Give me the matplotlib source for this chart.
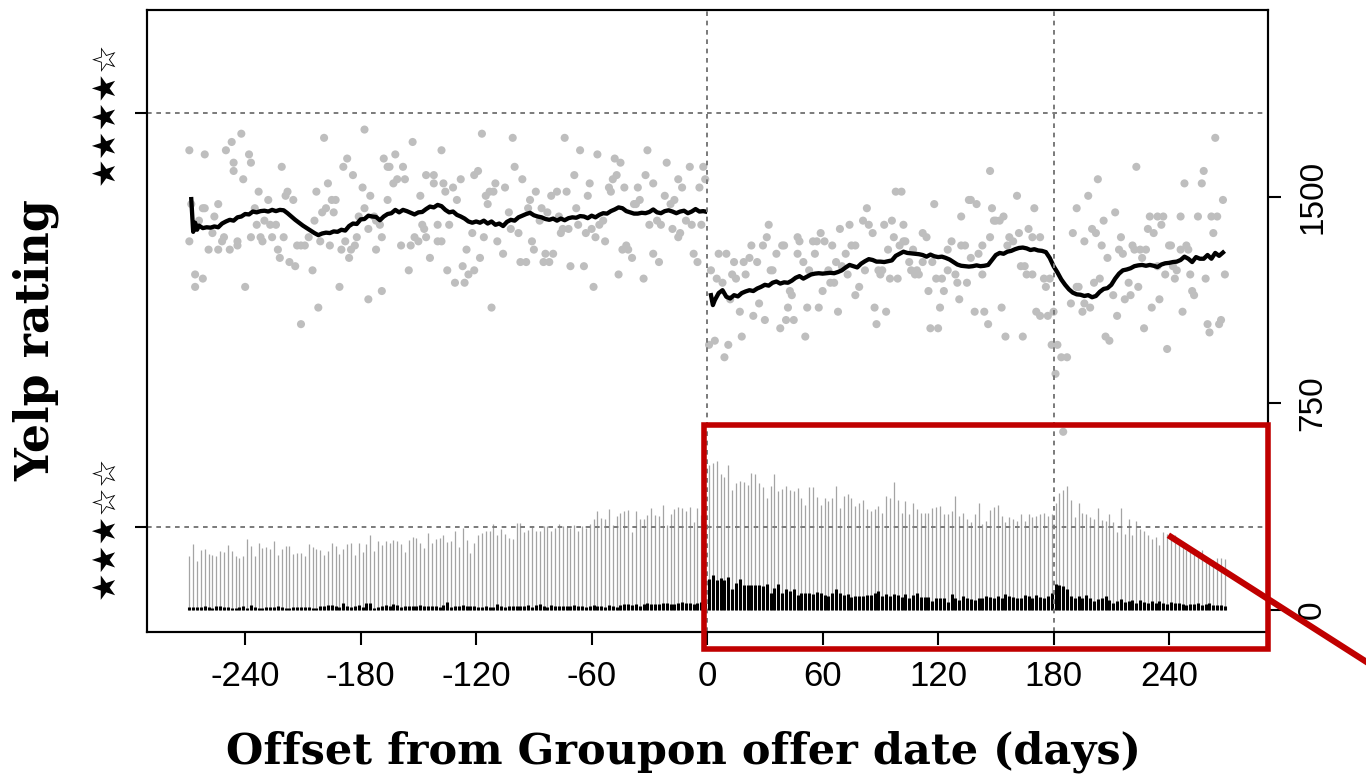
import numpy as np
import matplotlib
matplotlib.use("Agg")
import matplotlib.pyplot as plt
from matplotlib.patches import Rectangle
from matplotlib.lines import Line2D
from matplotlib.transforms import blended_transform_factory

plt.rcParams['font.family'] = ['Liberation Sans', 'DejaVu Sans']

# ---- data ----
# review counts (right axis), one bar every 2 days
bar_days_pre = np.arange(-269, 0, 2)
bar_days_post = np.arange(1, 270, 2)

gray_pre = [196, 239, 178, 217, 223, 205, 200, 196, 214, 212,
            236, 214, 196, 190, 196, 257, 233, 196, 242, 226,
            230, 223, 251, 199, 220, 233, 233, 205, 208, 208,
            196, 239, 230, 220, 217, 199, 214, 242, 233, 202,
            220, 241, 242, 200, 242, 212, 239, 272, 214, 251,
            236, 251, 242, 253, 251, 239, 212, 253, 265, 260,
            242, 226, 281, 245, 259, 263, 271, 248, 251, 285,
            229, 299, 253, 208, 242, 271, 281, 285, 285, 314,
            272, 293, 275, 263, 259, 317, 315, 283, 289, 305,
            287, 287, 305, 305, 287, 299, 311, 305, 303, 299,
            309, 287, 305, 299, 311, 329, 360, 335, 329, 366,
            309, 341, 354, 360, 362, 283, 360, 329, 330, 345,
            370, 345, 340, 380, 310, 350, 365, 375, 370, 360,
            375, 320, 370, 345, 340]
gray_post = [526, 535, 540, 493, 484, 528, 437, 460, 469, 466,
             455, 496, 493, 460, 445, 407, 452, 493, 431, 440,
             449, 437, 431, 443, 407, 383, 445, 445, 411, 383,
             407, 395, 407, 449, 369, 413, 421, 407, 377, 389,
             401, 366, 360, 366, 377, 354, 413, 407, 466, 398,
             354, 395, 348, 389, 366, 354, 354, 354, 372, 374,
             377, 348, 348, 360, 413, 342, 354, 330, 318, 348,
             389, 312, 324, 362, 374, 383, 342, 318, 338, 330,
             324, 348, 324, 348, 336, 342, 350, 354, 342, 350,
             389, 425, 437, 452, 401, 336, 389, 354, 348, 336,
             330, 372, 326, 324, 348, 318, 283, 372, 277, 330,
             271, 324, 294, 288, 271, 259, 265, 235, 283, 277,
             265, 271, 235, 229, 217, 211, 205, 193, 217, 182,
             176, 182, 188, 190, 185]
black_pre = [10, 12, 10, 12, 14, 12, 8, 14, 15, 10,
             10, 8, 6, 12, 14, 8, 18, 10, 8, 6,
             12, 12, 12, 14, 10, 8, 6, 10, 12, 10,
             12, 10, 8, 6, 14, 14, 18, 18, 14, 10,
             25, 14, 10, 14, 18, 12, 25, 25, 8, 10,
             14, 18, 14, 20, 18, 12, 14, 16, 16, 16,
             18, 16, 16, 14, 14, 12, 18, 28, 12, 14,
             16, 18, 16, 14, 14, 12, 12, 14, 10, 12,
             22, 16, 12, 14, 14, 14, 14, 16, 18, 10,
             18, 22, 14, 12, 18, 16, 16, 14, 16, 14,
             18, 16, 16, 12, 14, 18, 16, 14, 12, 18,
             14, 12, 18, 22, 20, 18, 22, 16, 20, 24,
             22, 20, 22, 26, 24, 22, 20, 24, 28, 26,
             24, 22, 26, 28, 30]
black_post = [113, 127, 108, 116, 108, 119, 75, 99, 114, 89,
              90, 90, 89, 89, 87, 94, 63, 81, 93, 63,
              77, 69, 75, 55, 61, 63, 63, 59, 66, 63,
              53, 51, 63, 75, 61, 53, 57, 47, 50, 49,
              51, 55, 55, 63, 69, 51, 59, 51, 57, 55,
              47, 57, 43, 53, 63, 47, 47, 47, 31, 43,
              44, 43, 30, 57, 43, 38, 51, 43, 39, 37,
              43, 43, 50, 47, 42, 51, 43, 57, 51, 47,
              44, 43, 53, 50, 42, 55, 48, 45, 51, 63,
              94, 90, 88, 75, 51, 45, 51, 45, 55, 43,
              33, 39, 42, 51, 37, 27, 33, 39, 30, 33,
              37, 25, 38, 30, 27, 31, 25, 33, 27, 21,
              30, 25, 27, 21, 19, 21, 21, 25, 19, 21,
              25, 19, 18, 18, 15]

# daily average ratings (day, rating)
daily_points = [
    (-269, 3.69), (-269, 3.91), (-268, 3.78), (-266, 3.61), (-266, 3.58), (-264, 3.74),
    (-262, 3.77), (-262, 3.60), (-261, 3.77), (-261, 3.90), (-259, 3.67), (-257, 3.71),
    (-256, 3.75), (-254, 3.78), (-254, 3.67), (-252, 3.69), (-251, 3.70), (-250, 3.91),
    (-248, 3.67), (-247, 3.93), (-246, 3.88), (-246, 3.86), (-244, 3.68), (-244, 3.69),
    (-242, 3.95), (-241, 3.84), (-240, 3.58), (-238, 3.90), (-237, 3.70), (-237, 3.88),
    (-235, 3.77), (-234, 3.73), (-233, 3.81), (-232, 3.70), (-231, 3.69), (-230, 3.74),
    (-228, 3.79), (-227, 3.73), (-226, 3.70), (-224, 3.73), (-223, 3.67), (-222, 3.65),
    (-221, 3.87), (-220, 3.70), (-219, 3.80), (-218, 3.81), (-217, 3.64), (-215, 3.79),
    (-214, 3.63), (-213, 3.68), (-211, 3.68), (-211, 3.49), (-209, 3.68), (-207, 3.70),
    (-205, 3.62), (-204, 3.74), (-203, 3.81), (-202, 3.53), (-201, 3.69), (-200, 3.76),
    (-199, 3.94), (-198, 3.77), (-197, 3.83), (-196, 3.68), (-195, 3.79), (-194, 3.76),
    (-193, 3.79), (-191, 3.58), (-190, 3.67), (-189, 3.87), (-188, 3.69), (-187, 3.89),
    (-186, 3.65), (-185, 3.67), (-184, 3.85), (-183, 3.68), (-182, 3.70), (-181, 3.75),
    (-179, 3.82), (-178, 3.96), (-178, 3.77), (-176, 3.72), (-176, 3.55), (-175, 3.80),
    (-173, 3.75), (-172, 3.67), (-172, 3.74), (-170, 3.73), (-169, 3.57), (-169, 3.70),
    (-168, 3.89), (-166, 3.79), (-166, 3.87), (-165, 3.87), (-163, 3.83), (-162, 3.90),
    (-161, 3.84), (-159, 3.68), (-158, 3.87), (-157, 3.84), (-155, 3.62), (-154, 3.68),
    (-153, 3.93), (-152, 3.70), (-150, 3.69), (-149, 3.80), (-148, 3.73), (-147, 3.72),
    (-146, 3.70), (-146, 3.85), (-144, 3.65), (-142, 3.83), (-142, 3.85), (-140, 3.73),
    (-140, 3.69), (-138, 3.91), (-138, 3.69), (-137, 3.83), (-136, 3.81), (-135, 3.62),
    (-134, 3.73), (-132, 3.82), (-131, 3.59), (-130, 3.79), (-128, 3.84), (-127, 3.63),
    (-126, 3.59), (-125, 3.67), (-124, 3.61), (-122, 3.71), (-121, 3.62), (-121, 3.85),
    (-119, 3.86), (-118, 3.65), (-117, 3.95), (-116, 3.70), (-115, 3.80), (-114, 3.78),
    (-113, 3.81), (-112, 3.53), (-111, 3.81), (-110, 3.83), (-109, 3.69), (-106, 3.66),
    (-105, 3.82), (-103, 3.76), (-102, 3.72), (-101, 3.94), (-100, 3.87), (-98, 3.71),
    (-97, 3.64), (-96, 3.84), (-94, 3.64), (-93, 3.77), (-92, 3.79), (-91, 3.69),
    (-90, 3.67), (-89, 3.81), (-87, 3.74), (-86, 3.77), (-85, 3.64), (-84, 3.66),
    (-83, 3.76), (-82, 3.64), (-81, 3.80), (-80, 3.66), (-78, 3.81), (-77, 3.75),
    (-76, 3.71), (-75, 3.72), (-74, 3.94), (-73, 3.81), (-72, 3.72), (-71, 3.63),
    (-69, 3.85), (-68, 3.77), (-67, 3.73), (-66, 3.91), (-64, 3.63), (-63, 3.71),
    (-62, 3.80), (-61, 3.83), (-60, 3.72), (-59, 3.58), (-58, 3.70), (-57, 3.90),
    (-56, 3.73), (-54, 3.74), (-53, 3.69), (-51, 3.82), (-50, 3.81), (-49, 3.84),
    (-48, 3.89), (-47, 3.85), (-46, 3.61), (-45, 3.88), (-44, 3.67), (-43, 3.82),
    (-42, 3.68), (-41, 3.67), (-39, 3.65), (-38, 3.78), (-37, 3.78), (-36, 3.82),
    (-35, 3.79), (-33, 3.60), (-32, 3.85), (-31, 3.91), (-30, 3.73), (-28, 3.83),
    (-28, 3.66), (-26, 3.74), (-25, 3.64), (-24, 3.73), (-22, 3.80), (-21, 3.88),
    (-19, 3.78), (-18, 3.72), (-17, 3.79), (-15, 3.70), (-15, 3.84), (-14, 3.71),
    (-13, 3.82), (-11, 3.74), (-9, 3.87), (-8, 3.73), (-7, 3.66), (-5, 3.64),
    (-4, 3.82), (-3, 3.73), (-2, 3.87), (-1, 3.84),
    (1, 3.44), (2, 3.62), (4, 3.45), (5, 3.60), (6, 3.66), (8, 3.59), (9, 3.41), (10, 3.66),
    (11, 3.44), (12, 3.55), (13, 3.61), (14, 3.64), (15, 3.60), (17, 3.52), (18, 3.46),
    (19, 3.64), (20, 3.61), (22, 3.65), (23, 3.68), (24, 3.51), (26, 3.64), (27, 3.54),
    (29, 3.68), (30, 3.50), (31, 3.70), (32, 3.73), (33, 3.62), (34, 3.62), (36, 3.66),
    (38, 3.48), (39, 3.68), (40, 3.68), (41, 3.50), (42, 3.53), (43, 3.57), (44, 3.56),
    (45, 3.50), (47, 3.70), (47, 3.66), (48, 3.69), (50, 3.64), (51, 3.46), (52, 3.53),
    (53, 3.62), (55, 3.69), (56, 3.66), (57, 3.69), (58, 3.53), (59, 3.71), (60, 3.57),
    (61, 3.69), (63, 3.62), (64, 3.59), (65, 3.68), (66, 3.59), (67, 3.64), (68, 3.52),
    (69, 3.72), (70, 3.63), (72, 3.66), (73, 3.61), (74, 3.73), (75, 3.68), (77, 3.56),
    (77, 3.68), (79, 3.58), (81, 3.74), (82, 3.62), (83, 3.77), (84, 3.73), (86, 3.71),
    (87, 3.53), (88, 3.49), (89, 3.62), (90, 3.61), (91, 3.62), (92, 3.73), (93, 3.52),
    (94, 3.67), (95, 3.60), (96, 3.74), (97, 3.70), (98, 3.81), (99, 3.60), (100, 3.68),
    (101, 3.81), (102, 3.73), (102, 3.69), (103, 3.69), (105, 3.64), (106, 3.62),
    (107, 3.67), (108, 3.61), (109, 3.62), (110, 3.61), (112, 3.71), (112, 3.64),
    (114, 3.70), (115, 3.57), (116, 3.48), (117, 3.64), (118, 3.78), (119, 3.60),
    (120, 3.48), (121, 3.53), (122, 3.60), (123, 3.57), (125, 3.62), (125, 3.67),
    (127, 3.69), (129, 3.61), (130, 3.59), (131, 3.55), (132, 3.75), (132, 3.68),
    (134, 3.68), (135, 3.59), (136, 3.79),
    (137, 3.79), (137, 3.65), (139, 3.52), (140, 3.78), (141, 3.66), (143, 3.61),
    (143, 3.68), (144, 3.52), (146, 3.49), (147, 3.86), (147, 3.70), (148, 3.77),
    (149, 3.74), (150, 3.74), (152, 3.74), (153, 3.53), (154, 3.75), (155, 3.46),
    (156, 3.68), (157, 3.70), (159, 3.69), (161, 3.80), (162, 3.71), (163, 3.63),
    (164, 3.46), (165, 3.63), (166, 3.61), (167, 3.72), (169, 3.61), (169, 3.70),
    (170, 3.77), (171, 3.52), (173, 3.70), (173, 3.51), (175, 3.60), (176, 3.58),
    (177, 3.51), (178, 3.60), (179, 3.44), (180, 3.52), (181, 3.37), (182, 3.44),
    (184, 3.41), (185, 3.23), (187, 3.41), (189, 3.54), (190, 3.71), (192, 3.58),
    (192, 3.77), (193, 3.58), (195, 3.52), (196, 3.69), (196, 3.54), (198, 3.80),
    (199, 3.53), (200, 3.72), (201, 3.59), (202, 3.71), (203, 3.84), (204, 3.60),
    (205, 3.68), (206, 3.74), (207, 3.46), (208, 3.65), (209, 3.45), (211, 3.56),
    (212, 3.76), (213, 3.51), (214, 3.67), (215, 3.70), (216, 3.66), (217, 3.55),
    (219, 3.59), (220, 3.56), (221, 3.68), (222, 3.67), (223, 3.87), (224, 3.58),
    (225, 3.67), (226, 3.65), (227, 3.48), (228, 3.67), (229, 3.72), (230, 3.75),
    (231, 3.53), (232, 3.71), (234, 3.75), (234, 3.63), (235, 3.55), (236, 3.73),
    (237, 3.75), (238, 3.61), (239, 3.43), (240, 3.68), (241, 3.68), (242, 3.63),
    (243, 3.60), (244, 3.62), (246, 3.67), (246, 3.75), (247, 3.52), (248, 3.83),
    (249, 3.68), (250, 3.67), (251, 3.61), (252, 3.57), (253, 3.56), (255, 3.75),
    (257, 3.83), (258, 3.86), (259, 3.60), (260, 3.49), (261, 3.47), (262, 3.75),
    (263, 3.71), (264, 3.94), (265, 3.75), (266, 3.49), (267, 3.50), (268, 3.79),
    (269, 3.61),
]

# running mean of the rating, before and after the offer
trend_pre = [
    (-268, 3.792), (-267, 3.713), (-266, 3.735), (-265, 3.718), (-264, 3.728), (-262, 3.722),
    (-260, 3.724), (-258, 3.723), (-256, 3.726), (-254, 3.724), (-252, 3.733), (-250, 3.738),
    (-248, 3.742), (-246, 3.740), (-244, 3.748), (-242, 3.750), (-240, 3.756), (-238, 3.755),
    (-236, 3.762), (-234, 3.760), (-232, 3.763), (-230, 3.764), (-228, 3.762), (-226, 3.766),
    (-224, 3.763), (-222, 3.766), (-220, 3.765), (-218, 3.758), (-216, 3.750), (-214, 3.742),
    (-212, 3.735), (-210, 3.728), (-208, 3.722), (-206, 3.716), (-204, 3.710), (-202, 3.705),
    (-200, 3.709), (-198, 3.711), (-196, 3.710), (-194, 3.714), (-192, 3.713), (-190, 3.718),
    (-188, 3.716), (-186, 3.727), (-184, 3.733), (-182, 3.732), (-180, 3.743), (-178, 3.744),
    (-176, 3.752), (-174, 3.750), (-172, 3.749), (-170, 3.741), (-168, 3.750), (-166, 3.756),
    (-164, 3.758), (-162, 3.766), (-160, 3.760), (-158, 3.766), (-156, 3.763), (-154, 3.759),
    (-152, 3.755), (-150, 3.760), (-148, 3.761), (-146, 3.768), (-144, 3.774), (-142, 3.772),
    (-140, 3.778), (-138, 3.775), (-136, 3.766), (-134, 3.760), (-132, 3.762), (-130, 3.754),
    (-128, 3.750), (-126, 3.745), (-124, 3.738), (-122, 3.735), (-120, 3.738), (-118, 3.735),
    (-116, 3.740), (-114, 3.733), (-112, 3.738), (-110, 3.730), (-108, 3.733), (-106, 3.727),
    (-104, 3.737), (-102, 3.742), (-100, 3.740), (-98, 3.748), (-96, 3.752), (-94, 3.756),
    (-92, 3.759), (-90, 3.753), (-88, 3.750), (-86, 3.748), (-84, 3.744), (-82, 3.742),
    (-80, 3.745), (-78, 3.740), (-76, 3.745), (-74, 3.741), (-72, 3.746), (-70, 3.748),
    (-68, 3.747), (-66, 3.751), (-64, 3.750), (-62, 3.746), (-60, 3.752), (-58, 3.748),
    (-56, 3.754), (-54, 3.758), (-52, 3.757), (-50, 3.763), (-48, 3.767), (-46, 3.772),
    (-44, 3.770), (-42, 3.763), (-40, 3.760), (-38, 3.757), (-36, 3.757), (-34, 3.759),
    (-32, 3.758), (-30, 3.761), (-28, 3.767), (-26, 3.760), (-24, 3.758), (-22, 3.763),
    (-20, 3.765), (-18, 3.762), (-16, 3.758), (-14, 3.762), (-12, 3.764), (-10, 3.758),
    (-8, 3.762), (-6, 3.768), (-4, 3.762), (-2, 3.763), (-1, 3.762),
]
trend_post = [
    (2, 3.560), (3, 3.536), (4, 3.548), (6, 3.565), (8, 3.572), (10, 3.556), (12, 3.552),
    (14, 3.560), (16, 3.557), (18, 3.565), (20, 3.569), (22, 3.572), (24, 3.570), (26, 3.576),
    (28, 3.580), (30, 3.585), (32, 3.583), (34, 3.590), (36, 3.593), (38, 3.588), (40, 3.591),
    (42, 3.590), (44, 3.595), (46, 3.602), (48, 3.606), (50, 3.600), (52, 3.605), (54, 3.610),
    (56, 3.612), (58, 3.613), (60, 3.612), (62, 3.613), (64, 3.614), (66, 3.613), (68, 3.616),
    (70, 3.620), (72, 3.627), (74, 3.633), (76, 3.630), (78, 3.627), (80, 3.636), (82, 3.642),
    (84, 3.647), (86, 3.645), (88, 3.641), (90, 3.641), (92, 3.640), (94, 3.642), (96, 3.644),
    (98, 3.655), (100, 3.660), (102, 3.665), (104, 3.662), (106, 3.661), (108, 3.660),
    (110, 3.659), (112, 3.657), (114, 3.653), (116, 3.658), (118, 3.654), (120, 3.652),
    (122, 3.653), (124, 3.650), (126, 3.646), (128, 3.640), (130, 3.634), (132, 3.631),
    (134, 3.630), (136, 3.629), (138, 3.630), (140, 3.632), (142, 3.630), (144, 3.631),
    (146, 3.633), (148, 3.645), (150, 3.657), (152, 3.662), (154, 3.660), (156, 3.665),
    (158, 3.667), (160, 3.671), (162, 3.674), (164, 3.675), (166, 3.673), (168, 3.669),
    (170, 3.671), (172, 3.668), (174, 3.667), (176, 3.664), (178, 3.650), (180, 3.630),
    (182, 3.615), (184, 3.598), (186, 3.585), (188, 3.574), (190, 3.566), (192, 3.562),
    (194, 3.561), (196, 3.558), (198, 3.560), (200, 3.555), (202, 3.558), (204, 3.568),
    (206, 3.575), (208, 3.577), (210, 3.585), (212, 3.600), (214, 3.612), (216, 3.620),
    (218, 3.622), (220, 3.625), (222, 3.630), (224, 3.632), (226, 3.633), (228, 3.631),
    (230, 3.633), (232, 3.631), (234, 3.628), (236, 3.634), (238, 3.637), (240, 3.638),
    (242, 3.640), (244, 3.641), (246, 3.645), (248, 3.653), (250, 3.648), (252, 3.640),
    (254, 3.652), (256, 3.648), (258, 3.648), (260, 3.657), (262, 3.648), (264, 3.662),
    (266, 3.655), (268, 3.663),
]

x_ticks = [-240, -180, -120, -60, 0, 60, 120, 180, 240]
rating_ticks = [3, 4]
rating_labels = ['\u2605\u2605\u2605\u2606\u2606', '\u2605\u2605\u2605\u2605\u2606']
count_ticks = [0, 750, 1500]
marker_days = [0, 180]

red = '#c00000'
grid_gray = '#7a7a7a'

fig = plt.figure(figsize=(13.66, 7.76), dpi=100)
ax = fig.add_axes([147 / 1366, 1 - 632 / 776, 1121 / 1366, 622 / 776])
ax2 = ax.twinx()

ax.set_xlim(-291, 291.4)
ax.set_ylim(2.7464, 4.2488)
ax2.set_ylim(-80, 2179)

# counts on the right axis
bar_days = np.concatenate([bar_days_pre, bar_days_post])
ax2.vlines(bar_days, 0, gray_pre + gray_post, color='#a4a4a4', lw=0.9)
ax2.vlines(bar_days, 0, black_pre + black_post, color='black', lw=2.2)

# ratings on the left axis
pts = np.array(daily_points)
ax.scatter(pts[:, 0], pts[:, 1], s=34, color='#bebebe', edgecolors='none', zorder=2)
for trend in (trend_pre, trend_post):
    t = np.array(trend)
    ax.plot(t[:, 0], t[:, 1], color='black', lw=3.1, zorder=3, solid_joinstyle='round')

# reference lines, drawn over the bars
dash = (0, (2.4, 2.4))
hx = blended_transform_factory(ax2.transAxes, ax.transData)
for r in rating_ticks:
    ax2.plot([0, 1], [r, r], transform=hx, color=grid_gray, lw=1.4, ls=dash)
vx = blended_transform_factory(ax.transData, ax2.transAxes)
for d in marker_days:
    ax2.plot([d, d], [0, 1], transform=vx, color=grid_gray, lw=1.4, ls=dash)

# ticks and labels
ax.set_xticks(x_ticks)
ax.set_xticklabels([str(v) for v in x_ticks], fontsize=25)
ax.set_yticks(rating_ticks)
ax.set_yticklabels(rating_labels, rotation=90, va='center', fontsize=23,
                   family=['DejaVu Sans'])
ax2.set_yticks(count_ticks)
ax2.set_yticklabels([str(v) for v in count_ticks], rotation=90, va='center', fontsize=24)

ax.tick_params(axis='x', length=9.5, width=1.5, pad=11)
ax.tick_params(axis='y', length=9, width=1.5, pad=10)
ax2.tick_params(axis='y', length=9, width=1.5, pad=12)
for a in (ax, ax2):
    for s in a.spines.values():
        s.set_linewidth(1.5)

fig.text(684 / 1366, 1 - 752 / 776, 'Offset from Groupon offer date (days)',
         ha='center', va='center', fontsize=31, fontweight='bold', family='DejaVu Serif')
fig.text(36 / 1366, 1 - 340 / 776, 'Yelp rating', rotation=90,
         ha='center', va='center', fontsize=33, fontweight='bold', family='DejaVu Serif')

# red highlight box and pointer
ax2.add_patch(Rectangle((-1.5, 2.7065), 292.9, 3.246 - 2.7065, transform=ax.transData,
                        fill=False, ec=red, lw=4, clip_on=False, zorder=5))
ax2.add_line(Line2D([241, 350], [2.976, 2.652], transform=ax.transData,
                    color=red, lw=4.5, clip_on=False, zorder=5))

fig.savefig('out.png', dpi=100)
